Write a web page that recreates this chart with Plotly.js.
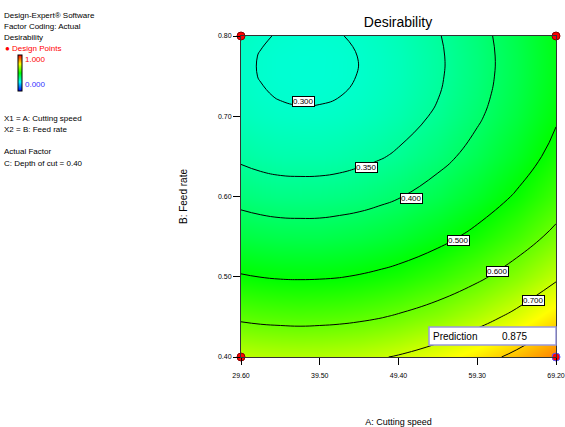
<!DOCTYPE html>
<html>
<head>
<meta charset="utf-8">
<script src="https://cdn.plot.ly/plotly-3.0.1.min.js"></script>
<style>html,body{margin:0;padding:0;background:#fff;}#chart{width:565px;height:427px;}</style>
</head>
<body>
<div id="chart"></div>
<script>
// ---- data ----
// A: Cutting speed (x grid, finer where the 0.300 ellipse sits)
const cuttingSpeed = [29.6, 32.075, 34.55, 37.025, 39.5, 41.975, 44.45, 46.925, 49.4, 54.35, 59.3, 64.25, 69.2];
// B: Feed rate (y grid)
const feedRate = [0.40, 0.45, 0.50, 0.55, 0.60, 0.65, 0.70, 0.725, 0.75, 0.775, 0.80];
// desirability estimated at each (feed rate row, cutting speed column)
const row0400 = [0.686, 0.680, 0.677, 0.676, 0.677, 0.681, 0.686, 0.695, 0.705, 0.734, 0.771, 0.818, 0.874];
const row0450 = [0.588, 0.582, 0.579, 0.577, 0.579, 0.582, 0.588, 0.596, 0.607, 0.634, 0.672, 0.718, 0.775];
const row0500 = [0.505, 0.499, 0.495, 0.494, 0.495, 0.498, 0.504, 0.512, 0.522, 0.550, 0.587, 0.633, 0.689];
const row0550 = [0.436, 0.430, 0.426, 0.425, 0.425, 0.429, 0.434, 0.442, 0.452, 0.480, 0.517, 0.563, 0.618];
const row0600 = [0.382, 0.375, 0.371, 0.370, 0.371, 0.374, 0.379, 0.387, 0.397, 0.424, 0.461, 0.507, 0.562];
const row0650 = [0.342, 0.335, 0.331, 0.330, 0.330, 0.333, 0.339, 0.346, 0.356, 0.383, 0.419, 0.465, 0.520];
const row0700 = [0.3164, 0.3099, 0.3057, 0.3039, 0.3044, 0.3072, 0.3124, 0.3199, 0.3298, 0.3565, 0.3926, 0.4380, 0.4928];
const row0725 = [0.3092, 0.3026, 0.2984, 0.2965, 0.2969, 0.2997, 0.3048, 0.3123, 0.3221, 0.3487, 0.3846, 0.4299, 0.4846];
const row0750 = [0.3056, 0.2989, 0.2946, 0.2927, 0.2931, 0.2958, 0.3008, 0.3082, 0.3180, 0.3444, 0.3803, 0.4254, 0.4800];
const row0775 = [0.3056, 0.2989, 0.2945, 0.2925, 0.2928, 0.2955, 0.3005, 0.3078, 0.3175, 0.3438, 0.3795, 0.4246, 0.4790];
const row0800 = [0.3092, 0.3025, 0.2981, 0.2960, 0.2962, 0.2988, 0.3038, 0.3110, 0.3206, 0.3469, 0.3824, 0.4274, 0.4816];
const desirability = [row0400, row0450, row0500, row0550, row0600, row0650, row0700, row0725, row0750, row0775, row0800];

const xTickVals = [29.6, 39.5, 49.4, 59.3, 69.2];
const xTickText = ["29.60", "39.50", "49.40", "59.30", "69.20"];
const yTickVals = [0.40, 0.50, 0.60, 0.70, 0.80];
const yTickText = ["0.40", "0.50", "0.60", "0.70", "0.80"];

const designX = [29.6, 69.2, 29.6, 69.2];
const designY = [0.80, 0.80, 0.40, 0.40];

const labelText = ["0.300", "0.350", "0.400", "0.500", "0.600", "0.700"];
const labelX = [37.5, 45.4, 51.0, 57.0, 61.9, 66.4];
const labelY = [0.718, 0.636, 0.598, 0.545, 0.506, 0.470];

const predictionValue = "0.875";

// ---- layout helpers ----
const W = 565, H = 427;
const L = 241, R = 556, T = 36, B = 357;
const px = v => (v - L) / (R - L);
const py = v => (B - v) / (B - T);
const FONT = "Liberation Sans Narrow, Arial Narrow, Liberation Sans, Arial, sans-serif";

const colorscale = [
  [0, "rgb(0,0,255)"], [0.25, "rgb(0,255,255)"], [0.5, "rgb(0,255,0)"],
  [0.75, "rgb(255,255,0)"], [1, "rgb(255,0,0)"]
];

const traces = [
  {
    type: "heatmap", x: cuttingSpeed, y: feedRate, z: desirability,
    zmin: 0, zmax: 1, zsmooth: "best", colorscale: colorscale, hoverinfo: "skip",
    colorbar: {
      x: px(18), xanchor: "left", xref: "paper", y: py(55), yanchor: "top", yref: "paper",
      thickness: 4, thicknessmode: "pixels", len: 36, lenmode: "pixels",
      outlinecolor: "#000", outlinewidth: 1, showticklabels: false, ticks: "",
      xpad: 0, ypad: 0
    }
  },
  {
    type: "contour", x: cuttingSpeed, y: feedRate, z: desirability,
    contours: {coloring: "none", start: 0.30, end: 0.40, size: 0.05},
    line: {color: "#000", width: 1, smoothing: 1.3}, showscale: false, hoverinfo: "skip"
  },
  {
    type: "contour", x: cuttingSpeed, y: feedRate, z: desirability,
    contours: {coloring: "none", start: 0.50, end: 0.80, size: 0.10},
    line: {color: "#000", width: 1, smoothing: 1.3}, showscale: false, hoverinfo: "skip"
  },
  {
    type: "scatter", mode: "markers", x: designX, y: designY, cliponaxis: false,
    marker: {size: 8, color: "#ff0000", line: {color: ["#8b0000", "#8b0000", "#8b0000", "#5555ff"], width: 1}},
    hoverinfo: "skip", showlegend: false
  }
];

const annotations = [];
const leftLines = [
  ["Design-Expert® Software", 15, "#000"],
  ["Factor Coding: Actual", 26, "#000"],
  ["Desirability", 37, "#000"],
  ["X1 = A: Cutting speed", 118, "#000"],
  ["X2 = B: Feed rate", 129, "#000"],
  ["Actual Factor", 151, "#000"],
  ["C: Depth of cut = 0.40", 163, "#000"]
];
leftLines.forEach(l => annotations.push({
  text: l[0], xref: "paper", yref: "paper", x: px(2), y: py(l[1]),
  xanchor: "left", yanchor: "middle", showarrow: false, font: {family: FONT, size: 8, color: l[2]}
}));
annotations.push({text: "● Design Points", xref: "paper", yref: "paper", x: px(3), y: py(48),
  xanchor: "left", yanchor: "middle", showarrow: false, font: {family: FONT, size: 8, color: "#ff0000"}});
annotations.push({text: "1.000", xref: "paper", yref: "paper", x: px(23), y: py(59),
  xanchor: "left", yanchor: "middle", showarrow: false, font: {family: FONT, size: 8, color: "#ff0000"}});
annotations.push({text: "0.000", xref: "paper", yref: "paper", x: px(23), y: py(84),
  xanchor: "left", yanchor: "middle", showarrow: false, font: {family: FONT, size: 8, color: "#3333ff"}});

labelText.forEach((t, i) => annotations.push({
  text: t, x: labelX[i], y: labelY[i], xref: "x", yref: "y", showarrow: false,
  bgcolor: "#fff", bordercolor: "#000", borderwidth: 1, borderpad: 0,
  font: {family: FONT, size: 8, color: "#000"}
}));

annotations.push({text: "Prediction", xref: "paper", yref: "paper", x: px(431), y: py(336),
  xanchor: "left", yanchor: "middle", showarrow: false, font: {family: FONT, size: 10, color: "#000"}});
annotations.push({text: predictionValue, xref: "paper", yref: "paper", x: px(514), y: py(336),
  xanchor: "center", yanchor: "middle", showarrow: false, font: {family: FONT, size: 10, color: "#000"}});

const layout = {
  width: W, height: H,
  margin: {l: L, r: W - R, t: T, b: H - B},
  paper_bgcolor: "#fff", plot_bgcolor: "#fff",
  showlegend: false,
  title: {text: "Desirability", x: 398 / W, xanchor: "center", y: 1 - 22 / H, yanchor: "middle",
    font: {family: FONT, size: 14, color: "#000"}},
  xaxis: {
    range: [29.6, 69.2], tickvals: xTickVals, ticktext: xTickText,
    ticks: "outside", ticklen: 7, tickcolor: "#000", tickwidth: 1, ticklabelstandoff: 5,
    showline: true, mirror: true, linecolor: "#333", linewidth: 1,
    showgrid: false, zeroline: false, tickfont: {family: FONT, size: 7, color: "#000"},
    title: {text: "A: Cutting speed", standoff: 40, font: {family: FONT, size: 9, color: "#000"}}
  },
  yaxis: {
    range: [0.40, 0.80], tickvals: yTickVals, ticktext: yTickText,
    ticks: "outside", ticklen: 7, tickcolor: "#000", tickwidth: 1,
    showline: true, mirror: true, linecolor: "#333", linewidth: 1,
    showgrid: false, zeroline: false, tickfont: {family: FONT, size: 7, color: "#000"},
    title: {text: "B: Feed rate", standoff: 28, font: {family: FONT, size: 10, color: "#000"}}
  },
  shapes: [{
    type: "rect", xref: "paper", yref: "paper",
    x0: px(429), x1: px(556), y0: py(345), y1: py(327),
    fillcolor: "#fff", line: {color: "#9999dd", width: 1.5}
  }],
  annotations: annotations
};

Plotly.newPlot("chart", traces, layout, {displayModeBar: false, staticPlot: true});
</script>
</body>
</html>
